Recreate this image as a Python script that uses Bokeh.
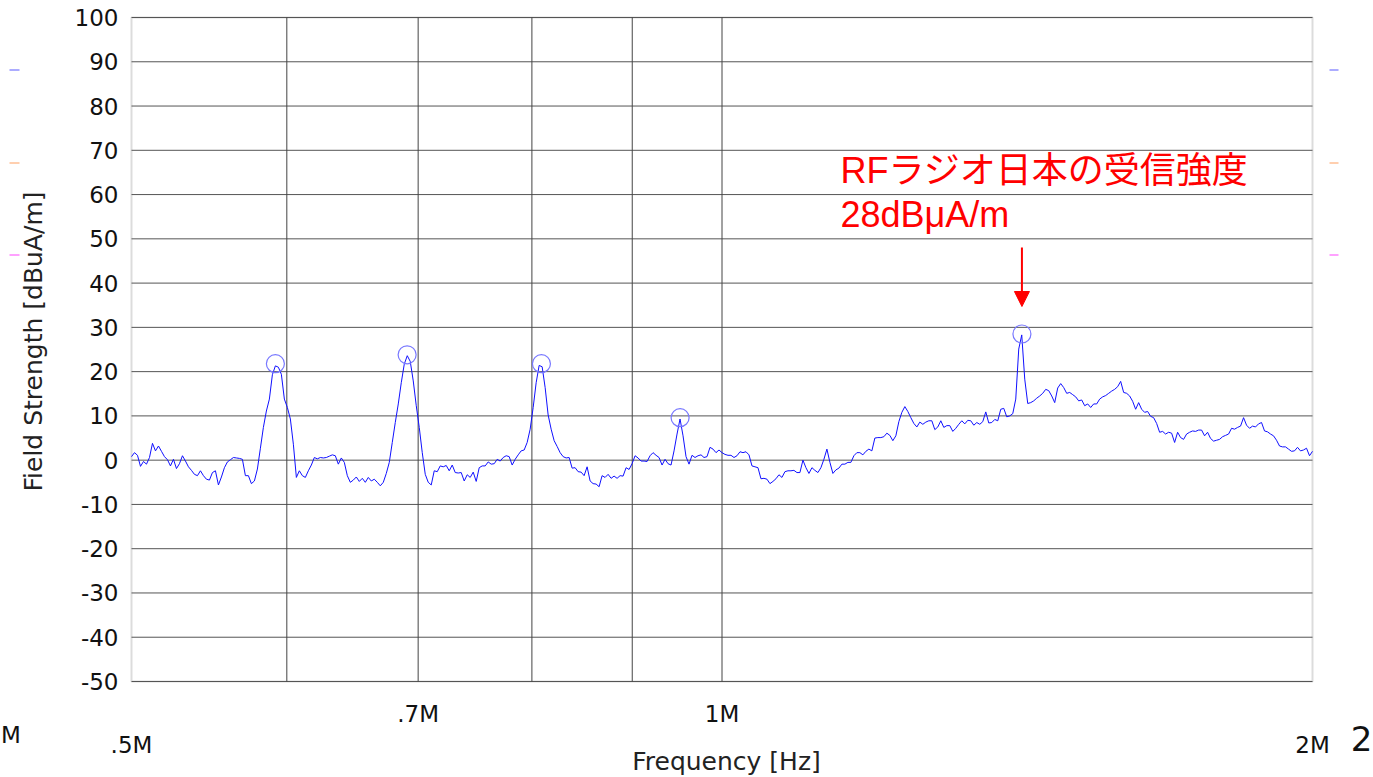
import math
import numpy as np
from bokeh.plotting import figure
from bokeh.models import (FixedTicker, Label, Arrow, NormalHead, BoxAnnotation,
                          ColumnDataSource, LogAxis, LinearAxis)
from bokeh.embed import file_html
from bokeh.resources import INLINE

# ---- data ----
sweep_start_hz = 500e3
sweep_stop_hz = 2e6
# measured level, one value per (log-spaced) sweep point
level_dbuA = [
    0.8, 1.7, 1.1, -1.4, -0.3, -0.9, 0.6, 3.8, 2.1, 3.2,
    2.0, 0.8, 0.1, -1.3, 0.2, -1.9, -0.8, 1.0, -0.2, -1.5,
    -2.3, -3.2, -3.5, -2.4, -3.5, -4.3, -4.5, -2.8, -2.4, -5.6,
    -3.8, -1.7, -0.4, 0.1, 0.6, 0.5, 0.4, 0.2, -3.5, -3.5,
    -5.3, -4.7, -2.0, 2.7, 7.4, 11.1, 13.8, 19.3, 21.3, 21.0,
    19.4, 13.8, 11.9, 9.3, 3.6, -3.9, -2.4, -3.5, -3.9, -2.4,
    -1.1, 0.6, 0.3, 0.6, 0.5, 0.6, 0.9, 1.2, 1.0, -0.9,
    0.5, -0.5, -3.5, -5.0, -4.5, -3.8, -4.8, -4.1, -5.0, -3.9,
    -4.7, -4.3, -5.0, -5.8, -5.0, -3.0, -0.5, 4.0, 8.5, 12.7,
    17.5, 21.7, 23.6, 22.3, 17.9, 12.3, 7.4, 1.7, -3.2, -5.0,
    -5.6, -2.4, -2.6, -1.3, -1.5, -1.2, -2.4, -1.1, -2.8, -2.9,
    -2.8, -4.7, -3.3, -3.9, -2.7, -4.8, -1.7, -1.3, -1.3, -0.4,
    -0.9, -0.8, 0.2, -0.2, 0.6, 1.0, 0.8, -1.1, 0.2, 1.2,
    2.1, 2.3, 4.0, 7.0, 11.9, 17.5, 21.4, 21.1, 16.4, 10.2,
    7.0, 4.4, 3.1, 1.7, 0.8, 0.5, 0.6, -1.8, -1.7, -2.6,
    -2.7, -3.5, -1.5, -4.7, -5.3, -5.4, -6.0, -3.5, -3.9, -3.2,
    -4.1, -3.6, -4.1, -3.5, -3.6, -1.7, -2.1, -0.8, 1.0, 0.5,
    -0.2, -0.2, -0.3, 1.0, 1.7, 1.1, 0.6, -1.1, 0.2, -0.8,
    -1.1, 2.1, 5.9, 9.3, 5.5, 0.8, -0.9, 1.1, 0.6, 1.0,
    1.2, 0.6, 0.8, 2.9, 2.5, 1.7, 2.3, 1.7, 1.3, 1.1,
    1.1, 0.6, 1.0, 1.9, 1.7, 1.9, 1.2, -1.3, -1.5, -1.7,
    -4.2, -4.1, -4.3, -5.3, -4.8, -4.2, -3.3, -3.9, -2.6, -2.4,
    -2.4, -2.3, -2.8, -2.8, 0.0, -1.7, -3.0, -1.7, -2.3, -2.8,
    -1.7, 0.2, 2.5, -0.5, -3.0, -2.2, -1.8, -0.9, -0.9, -0.5,
    -0.5, 1.0, 1.7, 1.7, 1.2, 2.0, 2.5, 2.1, 5.0, 5.1,
    5.1, 5.3, 6.1, 5.6, 4.4, 5.5, 8.7, 10.8, 12.1, 11.0,
    9.6, 8.3, 7.5, 8.6, 8.1, 8.6, 8.9, 8.9, 6.9, 7.5,
    8.9, 7.4, 7.8, 7.8, 6.5, 7.2, 8.1, 8.9, 8.2, 9.0,
    8.9, 7.9, 8.5, 8.1, 8.7, 10.9, 8.4, 8.5, 9.2, 8.9,
    11.5, 11.7, 9.8, 10.0, 10.5, 13.8, 25.1, 28.3, 18.3, 12.8,
    13.0, 13.4, 14.0, 14.5, 15.1, 16.0, 15.7, 14.5, 13.0, 16.3,
    17.3, 16.4, 15.1, 15.3, 14.8, 14.3, 13.4, 13.6, 12.3, 12.7,
    11.9, 12.7, 12.7, 13.8, 14.3, 14.6, 15.1, 15.6, 16.0, 16.6,
    17.8, 15.3, 15.1, 14.5, 13.3, 11.5, 13.0, 11.5, 10.8, 11.0,
    9.9, 9.6, 8.3, 6.3, 6.5, 5.9, 6.3, 6.1, 4.0, 6.3,
    5.1, 4.7, 5.9, 6.3, 6.6, 6.5, 6.8, 6.8, 5.5, 6.3,
    4.9, 4.3, 4.5, 4.7, 5.3, 5.6, 5.9, 7.2, 7.0, 7.4,
    7.7, 9.6, 7.9, 7.2, 7.7, 7.5, 8.2, 8.5, 6.6, 6.4,
    5.9, 5.5, 4.5, 3.2, 3.0, 3.0, 2.5, 2.0, 2.1, 2.9,
    2.1, 2.3, 2.7, 1.0, 2.0,
]

# marked station peaks
peak_freq_hz = [592e3, 691e3, 809e3, 952e3, 1422e3]
peak_level = [21.8, 23.8, 21.8, 9.6, 28.5]

y_min, y_max = -50, 100
y_ticks = [-50, -40, -30, -20, -10, 0, 10, 20, 30, 40, 50, 60, 70, 80, 90, 100]
y_tick_labels = [str(t) for t in y_ticks]
x_grid_hz = [600e3, 700e3, 800e3, 900e3, 1e6]
x_tick_upper_hz = [700e3, 1e6]
x_tick_upper_labels = [".7M", "1M"]
x_tick_lower_hz = [500e3, 2e6]
x_tick_lower_labels = [".5M", "2M"]

note_line1 = "RFラジオ日本の受信強度"
note_line2 = "28dBμA/m"

# sweep frequency grid of the analyzer (log sweep)
freq_hz = np.geomspace(sweep_start_hz, sweep_stop_hz, len(level_dbuA))

# ---- layout (pixels) ----
W, H = 1373, 777
CL, CR, CT, CB = 131, 1312, 17, 681          # chart box edges
DPP = math.log10(sweep_stop_hz / sweep_start_hz) / (CR - CL)
VPP = (y_max - y_min) / (CB - CT)


def hx(px):
    return sweep_start_hz * 10 ** ((px - CL) * DPP)


def vy(py):
    return y_max - (py - CT) * VPP


TICK_FONT = "DejaVu Sans"
NOTE_FONT = "Liberation Sans, 'Noto Sans CJK JP'"
TXT = "#111111"

p = figure(width=W, height=H, x_axis_type="log",
           x_range=(hx(0), hx(W)), y_range=(vy(H), vy(0)),
           output_backend="svg", toolbar_location=None, title=None,
           min_border=0)
p.outline_line_color = None
p.background_fill_color = "white"
p.border_fill_color = "white"
p.grid.visible = False

# chart border
p.add_layout(BoxAnnotation(left=sweep_start_hz, right=sweep_stop_hz,
                           bottom=y_min, top=y_max, fill_color=None,
                           line_color="#8c8c8c", line_width=2, level="underlay"))

# grid lines
hsrc = ColumnDataSource(dict(x0=[sweep_start_hz] * len(y_ticks),
                             x1=[sweep_stop_hz] * len(y_ticks),
                             y=y_ticks))
p.segment("x0", "y", "x1", "y", source=hsrc, line_color="#555555", line_width=1)
vsrc = ColumnDataSource(dict(x=x_grid_hz, y0=[y_min] * len(x_grid_hz),
                             y1=[y_max] * len(x_grid_hz)))
p.segment("x", "y0", "x", "y1", source=vsrc, line_color="#444444", line_width=1)


def style_axis(ax, size="23px"):
    ax.axis_line_color = None
    ax.major_tick_line_color = None
    ax.minor_tick_line_color = None
    ax.major_tick_out = 0
    ax.major_tick_in = 0
    ax.minor_tick_out = 0
    ax.minor_tick_in = 0
    ax.major_label_text_font = TICK_FONT
    ax.major_label_text_font_size = size
    ax.major_label_text_color = TXT
    ax.axis_label_text_font = TICK_FONT
    ax.axis_label_text_font_style = "normal"
    ax.axis_label_text_font_size = "25px"
    ax.axis_label_text_color = "#222222"


# y axis with tick labels (drawn at the chart's left edge)
yax = p.yaxis[0]
style_axis(yax)
yax.fixed_location = sweep_start_hz
yax.bounds = (y_min, y_max)
yax.ticker = FixedTicker(ticks=y_ticks)
yax.major_label_overrides = dict(zip(y_ticks, y_tick_labels))
yax.major_label_standoff = 13

# y axis title (centred a little above the chart middle, as in the source)
ytitle = LinearAxis(fixed_location=sweep_start_hz, ticker=FixedTicker(ticks=[]),
                    bounds=(vy(CB - 16), y_max),
                    axis_label="Field Strength [dBuA/m]", axis_label_standoff=84)
style_axis(ytitle)
p.add_layout(ytitle, "left")

# x axis, upper row of tick labels
xax = p.xaxis[0]
style_axis(xax)
xax.fixed_location = y_min
xax.bounds = (sweep_start_hz, sweep_stop_hz)
xax.ticker = FixedTicker(ticks=x_tick_upper_hz)
xax.major_label_overrides = dict(zip(x_tick_upper_hz, x_tick_upper_labels))
xax.major_label_standoff = 19

# x axis, lower row of tick labels
xax2 = LogAxis(fixed_location=y_min, bounds=(hx(CL - 1), hx(CR + 1)),
               ticker=FixedTicker(ticks=x_tick_lower_hz),
               major_label_overrides=dict(zip(x_tick_lower_hz, x_tick_lower_labels)),
               major_label_standoff=50)
style_axis(xax2)
p.add_layout(xax2, "below")

# x axis title
xtitle = LogAxis(fixed_location=y_min, bounds=(sweep_start_hz, hx(1321)),
                 ticker=FixedTicker(ticks=[]), axis_label="Frequency [Hz]",
                 axis_label_standoff=65)
style_axis(xtitle)
p.add_layout(xtitle, "below")

# trace
src = ColumnDataSource(dict(f=freq_hz, v=level_dbuA))
p.line("f", "v", source=src, line_color="#1010ff", line_width=1)

# peak circles
p.scatter(peak_freq_hz, peak_level, marker="circle", size=18,
          fill_color=None, line_color="#7878ff", line_width=1.2)

# annotation
p.add_layout(Label(x=hx(840), y=vy(169.5), text=note_line1, text_align="left",
                   text_baseline="alphabetic", text_font=NOTE_FONT,
                   text_font_size="36px", text_color="#ff0000"))
p.add_layout(Label(x=hx(840), y=vy(213.5), text=note_line2, text_align="left",
                   text_baseline="alphabetic", text_font=NOTE_FONT,
                   text_font_size="36px", text_color="#ff0000"))
p.add_layout(Arrow(end=NormalHead(size=15, fill_color="#ff0000",
                                  line_color="#ff0000"),
                   x_start=peak_freq_hz[4], y_start=vy(247),
                   x_end=peak_freq_hz[4], y_end=vy(306),
                   line_color="#ff0000", line_width=2))

# page fragments at the picture's edges
p.add_layout(Label(x=hx(0.5), y=vy(734), text="M", text_align="left",
                   text_baseline="middle", text_font=TICK_FONT,
                   text_font_size="23px", text_color=TXT))
p.add_layout(Label(x=hx(1372), y=vy(738), text="2", text_align="right",
                   text_baseline="middle", text_font=TICK_FONT,
                   text_font_size="34px", text_color=TXT))

# small colored trace markers beside the chart
for x0, x1 in [(9, 19), (1329, 1338)]:
    for py, col in [(69, "#5a5aff"), (162, "#ffa060"), (254, "#ff44ff")]:
        p.add_layout(BoxAnnotation(left=hx(x0), right=hx(x1),
                                   bottom=vy(py + 1), top=vy(py),
                                   fill_color=col, fill_alpha=1,
                                   line_color=None))

open("out.html", "w").write(file_html(p, INLINE))
